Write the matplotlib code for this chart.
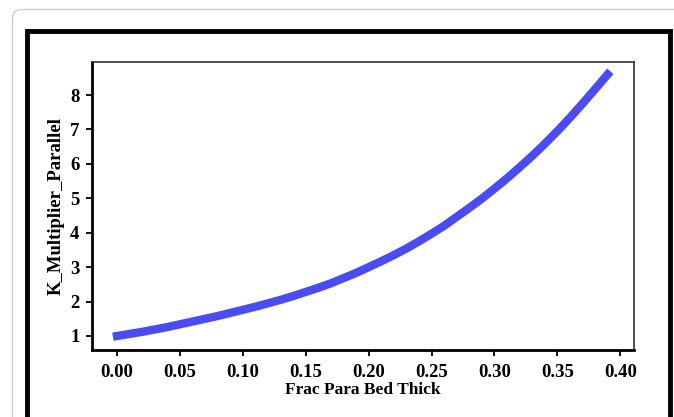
import matplotlib
matplotlib.use('Agg')
import matplotlib.pyplot as plt
from matplotlib.patches import FancyBboxPatch, Rectangle
from matplotlib.transforms import IdentityTransform

# values
frac_para = [0.00, 0.01, 0.02, 0.03, 0.04, 0.05, 0.06, 0.07, 0.08, 0.09,
             0.10, 0.11, 0.12, 0.13, 0.14, 0.15, 0.16, 0.17, 0.18, 0.19,
             0.20, 0.21, 0.22, 0.23, 0.24, 0.25, 0.26, 0.27, 0.28, 0.29,
             0.30, 0.31, 0.32, 0.33, 0.34, 0.35, 0.36, 0.37, 0.38, 0.39]
k_mult = [1.00, 1.06, 1.12, 1.19, 1.26, 1.34, 1.42, 1.50, 1.58, 1.67,
          1.76, 1.85, 1.95, 2.05, 2.16, 2.28, 2.40, 2.53, 2.68, 2.83,
          3.00, 3.17, 3.35, 3.54, 3.75, 3.97, 4.20, 4.46, 4.72, 4.99,
          5.28, 5.58, 5.90, 6.23, 6.58, 6.95, 7.34, 7.75, 8.17, 8.60]
x_ticks = [0.00, 0.05, 0.10, 0.15, 0.20, 0.25, 0.30, 0.35, 0.40]
y_ticks = [1, 2, 3, 4, 5, 6, 7, 8]

plt.rcParams['font.family'] = ['Liberation Serif', 'DejaVu Serif']
plt.rcParams['font.weight'] = 'bold'

fig = plt.figure(figsize=(6.74, 4.17), dpi=100)
fig.patch.set_facecolor('white')

# outer light frame (rounded) and black border, in pixel coordinates
frame = FancyBboxPatch((12.5, -30), 720, 417 - 9.5 + 30,
                       boxstyle='round,pad=0,rounding_size=9',
                       transform=IdentityTransform(), fill=False,
                       edgecolor='#cfcfcf', linewidth=1.0)
fig.patches.append(frame)
border = Rectangle((27, -30), 670 - 27, 417 - 30.5 + 30,
                   transform=IdentityTransform(), fill=False,
                   edgecolor='black', linewidth=3.5)
fig.patches.append(border)

ax = fig.add_axes([0.1365, 0.1607, 0.9407 - 0.1365, 0.8513 - 0.1607])
ax.plot(frac_para, k_mult, color='#4b4bf3', linewidth=6,
        solid_capstyle='projecting', solid_joinstyle='round')

ax.set_xlim(-0.0199, 0.411)
ax.set_ylim(0.593, 8.96)
ax.set_xticks(x_ticks)
ax.set_xticklabels(['%.2f' % v for v in x_ticks])
ax.set_yticks(y_ticks)
ax.tick_params(axis='both', labelsize=13.5, length=4, width=1.3, direction='out')
ax.tick_params(axis='x', pad=6)
ax.tick_params(axis='y', pad=5)

for s in ['left', 'bottom']:
    ax.spines[s].set_linewidth(2.0)
    ax.spines[s].set_color('black')
for s in ['top', 'right']:
    ax.spines[s].set_linewidth(1.2)
    ax.spines[s].set_color('#333333')

ax.set_xlabel('Frac Para Bed Thick', fontsize=12.5, fontweight='bold', labelpad=1)
ax.set_ylabel('K_Multiplier_Parallel', fontsize=13.5, fontweight='bold', labelpad=4)

fig.savefig('out.png', dpi=100)
